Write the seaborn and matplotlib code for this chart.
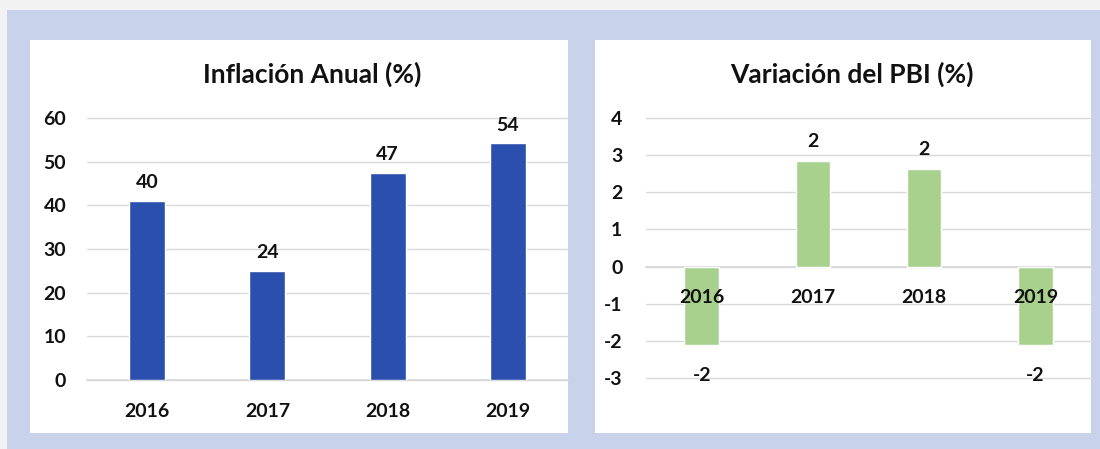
import matplotlib
matplotlib.use("Agg")
import matplotlib.pyplot as plt
import seaborn as sns
from matplotlib.patches import Rectangle

# data
years = ["2016", "2017", "2018", "2019"]
inflation = [41.0, 25.0, 47.5, 54.2]
inflation_labels = ["40", "24", "47", "54"]
gdp = [-2.1, 2.85, 2.62, -2.1]
gdp_labels = ["-2", "2", "2", "-2"]
inflation_ticks = [0, 10, 20, 30, 40, 50, 60]
gdp_ticks = [-3, -2, -1, 0, 1, 2, 3, 4]

sns.set_theme(style="white")
plt.rcParams["font.family"] = ["Lato", "DejaVu Sans"]
plt.rcParams["font.weight"] = "bold"
plt.rcParams["axes.unicode_minus"] = False

BG = "#c8d2ea"
BLUE = "#2b4fac"
GREEN = "#a9d18e"
GRID = "#d9d9d9"
TXT = "#111111"
FS = 14

fig = plt.figure(figsize=(11, 4.49), dpi=100)
fig.patch.set_facecolor(BG)

# thin light frame on top / left edge
fig.patches.append(Rectangle((0, 1 - 10 / 449), 1, 10 / 449, transform=fig.transFigure,
                             facecolor="#f2f2f2", edgecolor="none", zorder=-2))
fig.patches.append(Rectangle((0, 0), 7 / 1100, 1, transform=fig.transFigure,
                             facecolor="#f2f2f2", edgecolor="none", zorder=-2))

# white panels
for x0, x1 in [(30, 568), (595, 1091)]:
    fig.patches.append(Rectangle((x0 / 1100, (449 - 433) / 449), (x1 - x0) / 1100, 393 / 449,
                                 transform=fig.transFigure, facecolor="white",
                                 edgecolor="none", zorder=-1))


def style_axis(ax, ticks):
    ax.set_facecolor("none")
    ax.set_zorder(2)
    ax.set_ylim(ticks[0], ticks[-1])
    ax.set_yticks(ticks)
    ax.grid(False)
    for t in ticks:
        ax.axhline(t, color=GRID, linewidth=1, zorder=0, clip_on=False)
    for s in ["top", "right", "left"]:
        ax.spines[s].set_visible(False)
    ax.spines["bottom"].set_color(GRID)
    ax.spines["bottom"].set_zorder(0)
    ax.set_axisbelow(False)
    ax.set_xlabel("")
    ax.set_ylabel("")


def add_labels(ax, labels, values, up, down):
    for patch, txt, v in zip(ax.patches, labels, values):
        xc = patch.get_x() + patch.get_width() / 2
        ax.annotate(txt, (xc, v), xytext=(0, up if v > 0 else down),
                    textcoords="offset points", ha="center", va="center",
                    fontsize=FS, fontweight="bold", color=TXT)


# ==========================================
# Inflacion anual
# ==========================================
ax1 = fig.add_axes([87 / 1100, (449 - 380) / 449, 481 / 1100, 262 / 449])
sns.barplot(x=years, y=inflation, ax=ax1, color=BLUE, saturation=1, width=0.3, zorder=1)
style_axis(ax1, inflation_ticks)
ax1.tick_params(axis="x", length=0, pad=16.5, labelsize=FS, labelcolor=TXT)
ax1.tick_params(axis="y", length=0, pad=15, labelsize=FS, labelcolor=TXT)
add_labels(ax1, inflation_labels, inflation, 13, -13)
fig.text(312 / 1100, 1 - 74 / 449, "Inflación Anual (%)", ha="center", va="center",
         fontsize=19, fontweight="bold", color=TXT)

# ==========================================
# Variacion del PBI
# ==========================================
ax2 = fig.add_axes([646 / 1100, (449 - 378) / 449, 445 / 1100, 260 / 449])
sns.barplot(x=years, y=gdp, ax=ax2, color=GREEN, saturation=1, width=0.31, zorder=1)
style_axis(ax2, gdp_ticks)
ax2.spines["bottom"].set_position(("data", 0))
ax2.tick_params(axis="x", length=0, pad=16.5, labelsize=FS, labelcolor=TXT)
ax2.tick_params(axis="y", length=0, pad=17, labelsize=FS, labelcolor=TXT)
add_labels(ax2, gdp_labels, gdp, 14, -22.3)
fig.text(852 / 1100, 1 - 74 / 449, "Variación del PBI (%)", ha="center", va="center",
         fontsize=19, fontweight="bold", color=TXT)

fig.savefig("out.png", dpi=100, facecolor=fig.get_facecolor())
